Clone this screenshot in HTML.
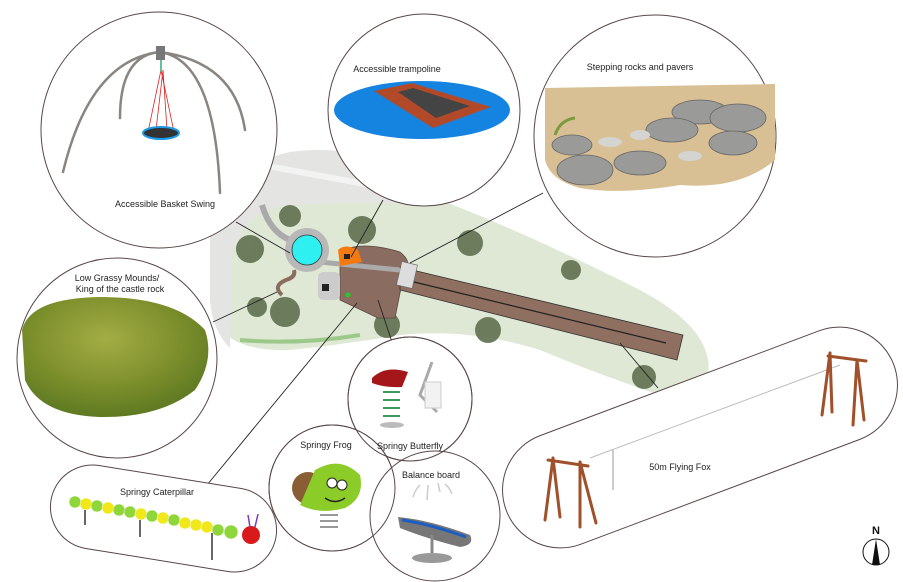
<!DOCTYPE html>
<html><head><meta charset="utf-8"><style>
html,body{margin:0;padding:0;background:#fff;}
svg{display:block;font-family:"Liberation Sans",Arial,sans-serif;}
</style></head><body>
<svg width="903" height="582" viewBox="0 0 903 582" xmlns="http://www.w3.org/2000/svg">
<defs>
<radialGradient id="grass" cx="45%" cy="35%" r="65%"><stop offset="0" stop-color="#a3ad44"/><stop offset="0.6" stop-color="#7d8f2c"/><stop offset="1" stop-color="#5f7a22"/></radialGradient>
</defs>
<!-- Site plan -->
<path d="M210,240 Q212,170 290,152 Q380,140 440,200 Q520,230 640,290 Q715,330 708,375 Q700,405 660,395 Q600,375 540,350 Q470,328 400,335 Q340,345 290,350 Q230,352 215,320 Z" fill="#dfe8d4"/>
<path d="M210,240 Q212,170 290,152 Q380,140 440,200 L430,206 Q360,200 290,205 Q240,210 232,260 L230,348 Q212,330 210,300 Z" fill="#e4e5e3"/>
<path d="M262,165 L430,196" stroke="#f3f3f3" stroke-width="6"/>
<path d="M240,340 Q300,345 360,335" stroke="#9cc98a" stroke-width="4" fill="none"/>
<g fill="#5f7050" opacity="0.9">
<circle cx="290" cy="216" r="11"/><circle cx="362" cy="230" r="14"/><circle cx="250" cy="249" r="14"/><circle cx="470" cy="243" r="13"/><circle cx="257" cy="307" r="10"/><circle cx="285" cy="312" r="15"/><circle cx="387" cy="325" r="13"/><circle cx="488" cy="330" r="13"/><circle cx="571" cy="270" r="10"/><circle cx="644" cy="377" r="12"/>
</g>
<path d="M340,252 Q360,240 400,252 Q412,262 405,268 L395,318 L378,318 L340,300 Z" fill="#8a6d60" stroke="#5a4a40" stroke-width="0.8"/>
<polygon points="400,267 683,335 677,360 400,290" fill="#8f6f5f" stroke="#333" stroke-width="0.8"/>
<line x1="410" y1="281" x2="666" y2="343" stroke="#222" stroke-width="1.2"/>
<rect x="399" y="263" width="16" height="24" fill="#ddd" stroke="#666" stroke-width="0.6" transform="rotate(13 407 275)"/>
<path d="M300,260 L400,270" stroke="#aaa" stroke-width="5"/>
<path d="M262,205 Q270,232 290,240" stroke="#aaa" stroke-width="6" fill="none"/>
<rect x="318" y="272" width="22" height="28" rx="5" fill="#ccc"/>
<rect x="322" y="284" width="7" height="7" fill="#222"/>
<circle cx="307" cy="250" r="22" fill="#b8b8b8"/>
<circle cx="307" cy="250" r="15" fill="#2ef0f0" stroke="#333" stroke-width="0.8"/>
<path d="M338,250 Q345,243 358,250 L362,262 L340,266 Z" fill="#f47a10"/>
<rect x="344" y="254" width="6" height="5" fill="#222"/>
<path d="M282,295 Q272,286 286,280 Q296,277 294,270" stroke="#8a6d5f" stroke-width="4" fill="none"/>
<circle cx="348" cy="295" r="2.5" fill="#2c2"/>
<!-- connector lines -->
<g stroke="#222" stroke-width="0.9">
<line x1="236" y1="222" x2="290" y2="253"/>
<line x1="383" y1="200" x2="351" y2="257"/>
<line x1="543" y1="193" x2="410" y2="263"/>
<line x1="213" y1="322" x2="277" y2="292"/>
<line x1="207" y1="485" x2="357" y2="303"/>
<line x1="392" y1="342" x2="378" y2="300"/>
<line x1="620" y1="343" x2="658" y2="388"/>
</g>
<!-- circles -->
<g fill="#fff" stroke="#5a4646" stroke-width="1">
<circle cx="159" cy="130" r="118"/>
<circle cx="424" cy="110" r="96"/>
<circle cx="655" cy="136" r="121"/>
<circle cx="117" cy="358" r="100"/>
<circle cx="410" cy="399" r="62"/>
<circle cx="332" cy="488" r="63"/>
<circle cx="435" cy="516" r="65"/>
</g>
<circle cx="332" cy="488" r="63" fill="none" stroke="#5a4646" stroke-width="1"/>
<circle cx="410" cy="399" r="62" fill="none" stroke="#5a4646" stroke-width="1"/>
<!-- caterpillar pill -->
<g transform="translate(163.5,518.5) rotate(9.2)">
<rect x="-114" y="-42" width="228" height="84" rx="42" fill="#fff" stroke="#5a4646" stroke-width="1"/>
</g>
<!-- flying fox pill -->
<g transform="translate(700,437.5) rotate(-20.6)">
<rect x="-207" y="-58" width="414" height="116" rx="58" fill="#fff" stroke="#5a4646" stroke-width="1"/>
</g>
<!-- swing -->
<g stroke="#8a8580" stroke-width="2.5" fill="none" stroke-linecap="round">
<path d="M160,52 Q90,60 63,172"/>
<path d="M160,52 Q215,60 220,193"/>
<path d="M160,52 Q235,62 245,130"/>
<path d="M160,52 Q120,55 120,118"/>
</g>
<rect x="156" y="46" width="9" height="14" fill="#777"/>
<g stroke="#d22" stroke-width="0.8"><line x1="161" y1="70" x2="148" y2="132"/><line x1="161" y1="70" x2="174" y2="132"/><line x1="163" y1="70" x2="156" y2="130"/><line x1="163" y1="70" x2="167" y2="130"/></g>
<line x1="161" y1="60" x2="161" y2="72" stroke="#3a7" stroke-width="1.5"/>
<ellipse cx="161" cy="133" rx="18" ry="6" fill="#333" stroke="#1d9be6" stroke-width="2"/>
<text x="165" y="207" font-size="9" text-anchor="middle" fill="#222">Accessible Basket Swing</text>
<!-- trampoline -->
<text x="397" y="72" font-size="9" text-anchor="middle" fill="#222">Accessible trampoline</text>
<ellipse cx="422" cy="110" rx="88" ry="29" fill="#1583e0"/>
<polygon points="374,91 412,83 491,107 433,128" fill="#b24a2a"/>
<polygon points="398,92 413,88 470,106 436,118" fill="#444"/>
<!-- stepping rocks -->
<text x="640" y="70" font-size="9" text-anchor="middle" fill="#222">Stepping rocks and pavers</text>
<path d="M545,88 L775,84 L775,160 Q740,190 680,185 Q620,195 580,188 Q550,180 545,160 Z" fill="#d9bf94"/>
<g fill="#9a9a98" stroke="#666" stroke-width="0.8">
<ellipse cx="700" cy="112" rx="28" ry="12"/><ellipse cx="738" cy="118" rx="28" ry="14"/><ellipse cx="672" cy="130" rx="26" ry="12"/><ellipse cx="733" cy="143" rx="24" ry="12"/><ellipse cx="640" cy="163" rx="26" ry="12"/><ellipse cx="585" cy="170" rx="28" ry="15"/><ellipse cx="572" cy="145" rx="20" ry="10"/>
</g>
<g fill="#d4d4d0"><ellipse cx="610" cy="142" rx="12" ry="5"/><ellipse cx="640" cy="135" rx="10" ry="5"/><ellipse cx="690" cy="156" rx="12" ry="5"/></g>
<path d="M555,135 Q560,120 575,118" stroke="#7a9a40" stroke-width="3" fill="none"/>
<!-- grassy mounds -->
<text x="117" y="281" font-size="9" text-anchor="middle" fill="#222">Low Grassy Mounds/</text>
<text x="120" y="292" font-size="9" text-anchor="middle" fill="#222">King of the castle rock</text>
<path d="M22,330 Q30,298 100,297 Q175,297 205,330 Q215,360 195,390 Q160,418 100,417 Q40,415 25,380 Z" fill="url(#grass)"/>
<!-- butterfly -->
<path d="M372,378 Q385,365 408,372 L402,387 Q385,388 372,383 Z" fill="#a5161a"/>
<g stroke="#3d9a5a" stroke-width="2"><line x1="383" y1="392" x2="400" y2="392"/><line x1="383" y1="400" x2="400" y2="400"/><line x1="383" y1="408" x2="400" y2="408"/><line x1="383" y1="416" x2="400" y2="416"/></g>
<ellipse cx="392" cy="425" rx="12" ry="3" fill="#bbb"/>
<path d="M432,362 L420,395 L437,412" stroke="#aaa" stroke-width="3" fill="none"/>
<rect x="425" y="382" width="16" height="26" fill="#f2f2f2" stroke="#ccc"/>
<text x="410" y="449" font-size="9" text-anchor="middle" fill="#222">Springy Butterfly</text>
<!-- frog -->
<text x="326" y="448" font-size="9" text-anchor="middle" fill="#222">Springy Frog</text>
<circle cx="308" cy="488" r="16" fill="#8a5e34"/>
<path d="M315,470 Q340,455 360,475 Q365,498 345,508 Q320,515 300,505 Z" fill="#8ccc28"/>
<circle cx="332" cy="483" r="5" fill="#fff" stroke="#222"/><circle cx="342" cy="485" r="5" fill="#fff" stroke="#222"/>
<path d="M325,498 Q335,505 345,498" stroke="#222" stroke-width="1.5" fill="none"/>
<g stroke="#999" stroke-width="2"><line x1="320" y1="515" x2="338" y2="515"/><line x1="320" y1="521" x2="338" y2="521"/><line x1="320" y1="527" x2="338" y2="527"/></g>
<!-- balance board -->
<text x="431" y="478" font-size="9" text-anchor="middle" fill="#222">Balance board</text>
<g stroke="#ccc" stroke-width="1.5" fill="none"><path d="M420,485 Q415,490 413,497"/><path d="M428,485 L427,500"/><path d="M438,483 L440,492"/><path d="M445,484 Q450,488 452,494"/></g>
<path d="M398,517 Q430,520 470,535 Q475,545 460,547 Q425,538 400,528 Z" fill="#777"/>
<path d="M402,520 Q430,524 466,537" stroke="#1d5ec0" stroke-width="3" fill="none"/>
<line x1="432" y1="535" x2="432" y2="555" stroke="#888" stroke-width="3"/>
<ellipse cx="432" cy="558" rx="20" ry="5" fill="#999"/>
<!-- caterpillar -->
<text x="157" y="495" font-size="9" text-anchor="middle" fill="#222">Springy Caterpillar</text>
<g stroke="#fff" stroke-width="0.5">
<circle cx="75" cy="502" r="6" fill="#8ed63a"/><circle cx="86" cy="504" r="6" fill="#f0e81a"/><circle cx="97" cy="506" r="6" fill="#8ed63a"/><circle cx="108" cy="508" r="6" fill="#f0e81a"/><circle cx="119" cy="510" r="6" fill="#8ed63a"/><circle cx="130" cy="512" r="6" fill="#8ed63a"/><circle cx="141" cy="514" r="6" fill="#f0e81a"/><circle cx="152" cy="516" r="6" fill="#8ed63a"/><circle cx="163" cy="518" r="6" fill="#f0e81a"/><circle cx="174" cy="520" r="6" fill="#8ed63a"/><circle cx="185" cy="523" r="6" fill="#f0e81a"/><circle cx="196" cy="525" r="6" fill="#f0e81a"/><circle cx="207" cy="527" r="6" fill="#f0e81a"/><circle cx="218" cy="530" r="6" fill="#8ed63a"/><circle cx="231" cy="532" r="7" fill="#8ed63a"/>
</g>
<circle cx="251" cy="535" r="9" fill="#d81a1a"/>
<g stroke="#334" stroke-width="1.5"><line x1="85" y1="510" x2="85" y2="525"/><line x1="140" y1="520" x2="140" y2="537"/><line x1="212" y1="533" x2="212" y2="560"/></g>
<line x1="250" y1="527" x2="248" y2="515" stroke="#7a3cc0" stroke-width="1.5"/><line x1="255" y1="527" x2="258" y2="514" stroke="#7a3cc0" stroke-width="1.5"/>
<!-- flying fox -->
<line x1="590" y1="458" x2="840" y2="365" stroke="#bbb" stroke-width="1"/>
<line x1="613" y1="450" x2="613" y2="490" stroke="#999" stroke-width="1"/>
<g stroke="#a0502a" stroke-width="3" stroke-linecap="round">
<line x1="548" y1="460" x2="588" y2="466"/>
<line x1="553" y1="458" x2="545" y2="520"/><line x1="553" y1="458" x2="560" y2="517"/>
<line x1="580" y1="462" x2="580" y2="527"/><line x1="580" y1="462" x2="596" y2="523"/>
<line x1="828" y1="356" x2="866" y2="361"/>
<line x1="830" y1="353" x2="822" y2="415"/><line x1="830" y1="353" x2="832" y2="412"/>
<line x1="857" y1="360" x2="853" y2="425"/><line x1="857" y1="360" x2="864" y2="420"/>
</g>
<text x="680" y="470" font-size="9" text-anchor="middle" fill="#222">50m Flying Fox</text>
<!-- north arrow -->
<text x="876" y="534" font-size="11" font-weight="bold" text-anchor="middle" fill="#111">N</text>
<circle cx="876" cy="552" r="13" fill="#fff" stroke="#111" stroke-width="1"/>
<polygon points="876,539 872,565 880,565" fill="#111"/>
</svg>
</body></html>
